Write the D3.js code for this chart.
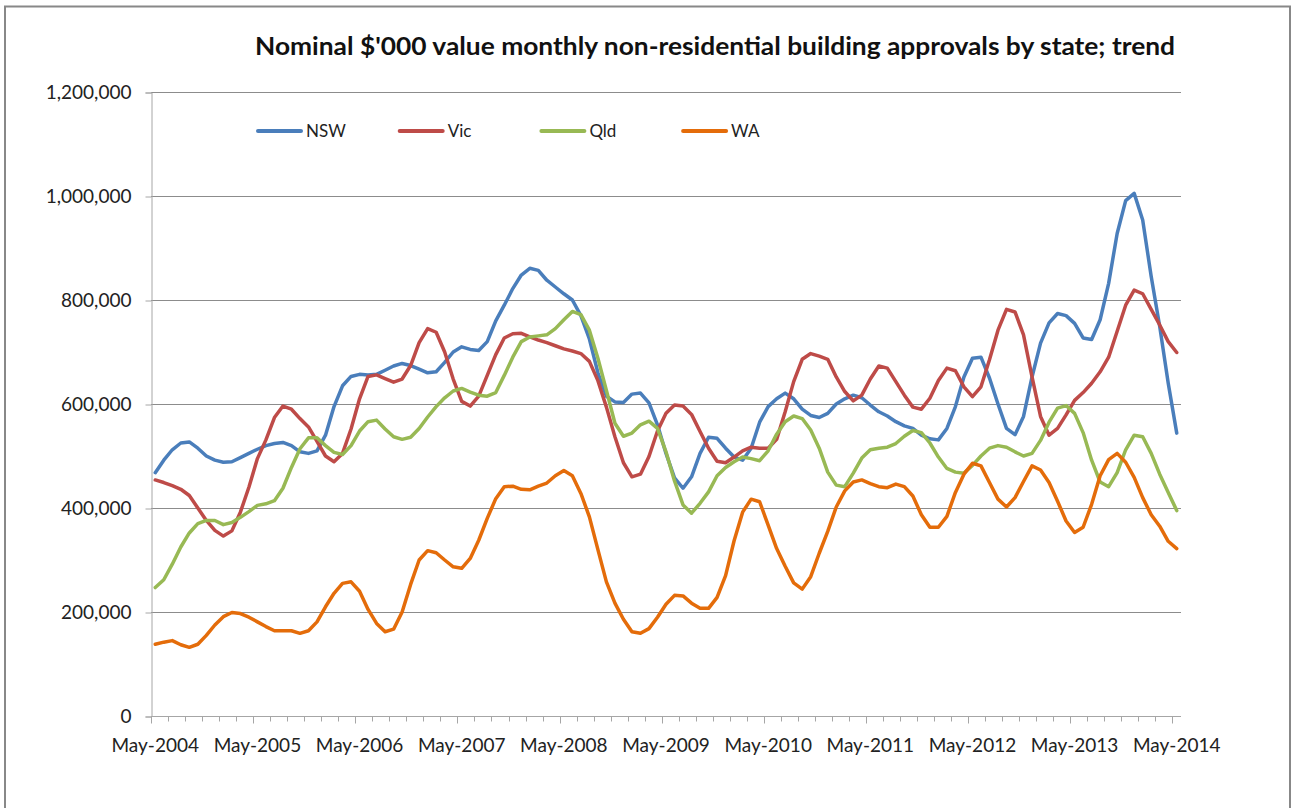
<!DOCTYPE html>
<html>
<head>
<meta charset="utf-8">
<script src="https://cdn.jsdelivr.net/npm/d3@7"></script>
<style>
  body { margin: 0; background: #fff; }
  svg { display: block; font-family: Lato, "Open Sans", sans-serif; }
</style>
</head>
<body>
<div id="chart"></div>
<script>
// Months May-2004 .. May-2014 (one category per month)
const months = d3.timeMonths(new Date(2004, 4, 1), new Date(2014, 5, 1));
const tickLabels = ["May-2004", "May-2005", "May-2006", "May-2007", "May-2008", "May-2009",
    "May-2010", "May-2011", "May-2012", "May-2013", "May-2014"];
const yTicks = [0, 200000, 400000, 600000, 800000, 1000000, 1200000];

// values in $'000 (thousands shown here, multiplied below)
const nsw = [468, 492, 512, 525, 527, 515, 500, 492, 488, 489, 497, 505,
    513, 520, 524, 526, 520, 508, 505, 510, 540, 595, 635, 653,
    657, 656, 657, 665, 673, 678, 674, 667, 660, 662, 680, 700,
    710, 705, 703, 720, 760, 790, 822, 848, 861, 857, 838, 825,
    812, 800, 770, 725, 660, 615, 604, 603, 619, 621, 602, 560,
    505, 458, 438, 460, 505, 536, 534, 515, 498, 492, 515, 565,
    595, 610, 621, 610, 590, 578, 574, 582, 600, 610, 617, 612,
    598, 585, 577, 566, 558, 553, 540, 533, 531, 553, 595, 652,
    688, 690, 650, 600, 553, 541, 576, 652, 717, 756, 774, 770,
    755, 727, 724, 762, 832, 928, 991, 1005, 954, 845, 749, 640,
    544];
const vic = [454, 449, 443, 436, 424, 400, 376, 357, 346, 356, 392, 440,
    495, 531, 574, 596, 590, 572, 556, 528, 500, 489, 505, 552,
    610, 653, 656, 649, 642, 648, 674, 718, 745, 738, 700, 648,
    605, 596, 615, 655, 695, 727, 735, 736, 729, 723, 718, 712,
    706, 702, 697, 682, 645, 594, 537, 487, 460, 465, 499, 548,
    582, 598, 596, 580, 547, 515, 490, 487, 498, 510, 517, 515,
    515, 532, 585, 643, 686, 697, 692, 686, 652, 624, 606, 617,
    648, 673, 669, 643, 617, 594, 590, 611, 645, 669, 664, 633,
    614, 633, 685, 742, 782, 777, 733, 652, 576, 540, 553, 579,
    607, 622, 640, 662, 690, 740, 790, 819, 812, 782, 752, 720,
    699];
const qld = [247, 262, 292, 325, 352, 370, 376, 376, 368, 372, 382, 393,
    405, 408, 414, 438, 478, 514, 535, 535, 520, 507, 503, 520,
    548, 566, 569, 552, 537, 532, 536, 553, 575, 595, 612, 625,
    630, 623, 617, 615, 622, 655, 690, 720, 729, 731, 733, 745,
    762, 778, 772, 742, 688, 626, 563, 538, 544, 560, 567, 553,
    508, 452, 406, 390, 409, 431, 462, 478, 489, 498, 495, 491,
    510, 542, 566, 577, 572, 550, 515, 469, 444, 441, 467, 496,
    512, 515, 517, 524, 538, 549, 545, 525, 498, 476, 469, 467,
    482, 500, 515, 520, 517, 508, 500, 505, 530, 565, 592, 597,
    582, 545, 492, 450, 441, 468, 512, 540, 537, 505, 465, 430,
    395];
const wa = [138, 142, 145, 137, 132, 138, 155, 175, 191, 199, 197, 190,
    181, 172, 164, 164, 164, 159, 164, 181, 210, 236, 255, 258,
    240, 205, 178, 162, 167, 200, 253, 300, 318, 314, 300, 287,
    284, 303, 338, 380, 418, 441, 442, 436, 435, 442, 448, 462,
    472, 462, 428, 383, 320, 258, 217, 186, 162, 159, 168, 190,
    215, 232, 231, 217, 207, 207, 228, 270, 337, 392, 417, 412,
    367, 322, 288, 256, 244, 268, 313, 355, 402, 433, 450, 454,
    447, 441, 439, 446, 441, 423, 387, 363, 363, 384, 430, 465,
    486, 481, 449, 417, 402, 420, 451, 481, 473, 449, 413, 375,
    353, 363, 407, 462, 493, 505, 488, 459, 420, 387, 365, 336,
    322];

const seriesNames = ["NSW", "Vic", "Qld", "WA"];
const seriesValues = [nsw, vic, qld, wa];
const colors = ["#4a7ebb", "#be4b48", "#98b954", "#e46c0a"];

const width = 1295, height = 808;
const plotLeft = 151, plotRight = 1181, plotTop = 92, plotBottom = 716;

const svg = d3.select("#chart").append("svg")
    .attr("width", width)
    .attr("height", height);

// chart area border
svg.append("rect")
    .attr("x", 5).attr("y", 6.5)
    .attr("width", 1285).attr("height", 820)
    .attr("fill", "#fff")
    .attr("stroke", "#888")
    .attr("stroke-width", 2);

const x = d3.scaleBand()
    .domain(d3.range(months.length))
    .range([plotLeft, plotRight])
    .paddingInner(0).paddingOuter(0);
const xc = i => x(i) + x.bandwidth() / 2;

const y = d3.scaleLinear()
    .domain([0, 1200000])
    .range([plotBottom, plotTop]);

// gridlines
svg.append("g")
    .selectAll("line")
    .data(yTicks.slice(1))
    .enter()
    .append("line")
    .attr("x1", plotLeft).attr("x2", plotRight)
    .attr("y1", d => Math.round(y(d)) + 0.5)
    .attr("y2", d => Math.round(y(d)) + 0.5)
    .style("stroke", "#8c8c8c")
    .style("stroke-width", "1px");

// y axis
const yAxis = svg.append("g")
    .attr("transform", `translate(${plotLeft + 0.5},0.5)`)
    .call(d3.axisLeft(y).tickValues(yTicks).tickSize(6).tickPadding(14)
        .tickFormat(d3.format(",")));
yAxis.select(".domain").attr("stroke", "#a6a6a6");
yAxis.selectAll(".tick line").attr("stroke", "#a6a6a6");
yAxis.selectAll("text")
    .style("font-size", "19px")
    .style("font-family", "Lato, 'Open Sans', sans-serif")
    .style("fill", "#222");

// x axis
const xAxis = svg.append("g").attr("transform", `translate(0,${plotBottom + 0.5})`);
xAxis.append("line")
    .attr("x1", plotLeft).attr("x2", plotRight)
    .style("stroke", "#a6a6a6");
xAxis.selectAll(".tk")
    .data(d3.range(0, months.length, 2))
    .enter()
    .append("line")
    .attr("class", "tk")
    .attr("x1", i => Math.round(x(i)) + 0.5)
    .attr("x2", i => Math.round(x(i)) + 0.5)
    .attr("y1", 0)
    .attr("y2", i => i % 12 === 0 ? 7 : 5)
    .style("stroke", "#a6a6a6");
xAxis.selectAll("text")
    .data(tickLabels)
    .enter()
    .append("text")
    .attr("x", (d, k) => xc(k * 12))
    .attr("y", 35)
    .attr("text-anchor", "middle")
    .style("font-size", "19px")
    .style("fill", "#222")
    .text(d => d);

// series lines
const line = d3.line()
    .x((d, i) => xc(i))
    .y(d => y(d * 1000));

svg.append("g")
    .selectAll("path")
    .data(seriesValues)
    .enter()
    .append("path")
    .attr("d", line)
    .attr("fill", "none")
    .attr("stroke", (d, i) => colors[i])
    .attr("stroke-width", 3.5)
    .attr("stroke-linejoin", "round")
    .attr("stroke-linecap", "round");

// legend
const legend = svg.append("g")
    .selectAll("g")
    .data(seriesNames)
    .enter()
    .append("g")
    .attr("transform", (d, i) => `translate(${258 + i * 141.7},131)`);
legend.append("line")
    .attr("x1", 0).attr("x2", 43)
    .attr("stroke", (d, i) => colors[i])
    .attr("stroke-width", 4)
    .attr("stroke-linecap", "round");
legend.append("text")
    .attr("x", 48)
    .attr("y", 6)
    .style("font-size", "17px")
    .style("fill", "#222")
    .text(d => d);

// title (stretched to the same span as the original)
svg.append("text")
    .attr("x", 255)
    .attr("y", 55)
    .attr("textLength", 920)
    .attr("lengthAdjust", "spacingAndGlyphs")
    .style("font-size", "24px")
    .style("font-weight", "bold")
    .style("fill", "#111")
    .text("Nominal $'000 value monthly non-residential building approvals by state; trend");
</script>
</body>
</html>
